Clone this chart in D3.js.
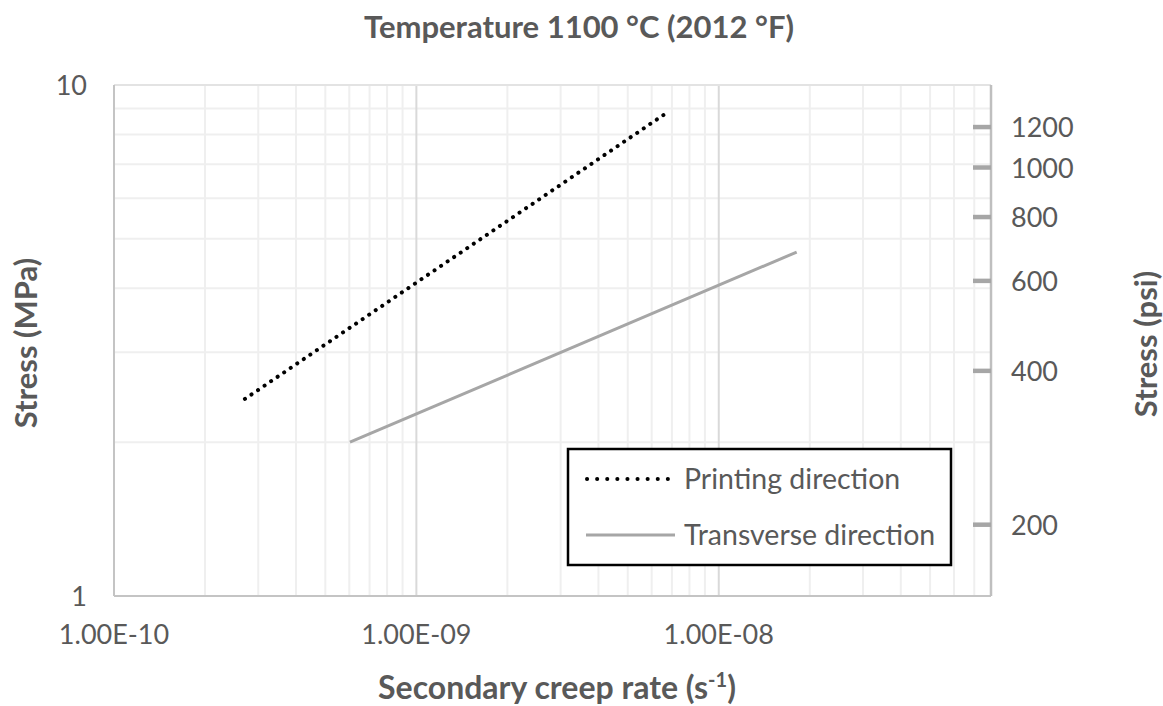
<!DOCTYPE html>
<html>
<head>
<meta charset="utf-8">
<script src="https://cdn.jsdelivr.net/npm/d3@7"></script>
<style>
  html, body { margin: 0; padding: 0; background: #fff; }
  svg { display: block; }
  text { font-family: Lato, "Open Sans", sans-serif; fill: #595959; }
</style>
</head>
<body>
<figure id="chart" style="margin:0"></figure>
<script>
// creep rate (1/s) vs stress (MPa)
const printingRate = [2.71e-10, 6.78e-9];
const printingStress = [2.43, 8.85];
const transverseRate = [6.03e-10, 1.81e-8];
const transverseStress = [2.0, 4.71];

const xTickValues = [1e-10, 1e-9, 1e-8];
const yTickValues = [1, 10];
const psiTickValues = [200, 400, 600, 800, 1000, 1200];
const seriesNames = ["Printing direction", "Transverse direction"];
const MPA_TO_PSI = 145.038;

const width = 1163;
const height = 706;
const margin = { top: 85, right: 172, bottom: 110, left: 114 };

const svg = d3.select("figure#chart")
  .append("svg")
  .attr("width", width)
  .attr("height", height);

const x = d3.scaleLog()
  .domain([1e-10, 7.95e-8])
  .range([margin.left, width - margin.right]);

const y = d3.scaleLog()
  .domain([1, 10])
  .range([height - margin.bottom, margin.top]);

// minor / major grid
const xMinor = [];
for (let e = -10; e <= -8; e++) {
  for (let k = 2; k <= 9; k++) {
    const v = k * Math.pow(10, e);
    if (v < x.domain()[1]) xMinor.push(v);
  }
}
const yMinor = d3.range(2, 10);

const grid = svg.append("g");
grid.selectAll(".xminor")
  .data(xMinor)
  .enter()
  .append("line")
  .attr("x1", d => x(d)).attr("x2", d => x(d))
  .attr("y1", y(1)).attr("y2", y(10))
  .attr("stroke", "#efefef")
  .attr("stroke-width", 2);

grid.selectAll(".yminor")
  .data(yMinor)
  .enter()
  .append("line")
  .attr("x1", x.range()[0]).attr("x2", x.range()[1])
  .attr("y1", d => y(d)).attr("y2", d => y(d))
  .attr("stroke", "#efefef")
  .attr("stroke-width", 2);

grid.selectAll(".xmajor")
  .data(xTickValues.slice(1))
  .enter()
  .append("line")
  .attr("x1", d => x(d)).attr("x2", d => x(d))
  .attr("y1", y(1)).attr("y2", y(10))
  .attr("stroke", "#d9d9d9")
  .attr("stroke-width", 2);

// top border
grid.append("line")
  .attr("x1", x.range()[0]).attr("x2", x.range()[1])
  .attr("y1", y(10)).attr("y2", y(10))
  .attr("stroke", "#e3e3e3")
  .attr("stroke-width", 2);

// axis lines
svg.append("line")
  .attr("x1", x.range()[0]).attr("x2", x.range()[0])
  .attr("y1", y(1)).attr("y2", y(10))
  .attr("stroke", "#c4c4c4").attr("stroke-width", 2);
svg.append("line")
  .attr("x1", x.range()[0]).attr("x2", x.range()[1])
  .attr("y1", y(1)).attr("y2", y(1))
  .attr("stroke", "#c4c4c4").attr("stroke-width", 2);
svg.append("line")
  .attr("x1", x.range()[1]).attr("x2", x.range()[1])
  .attr("y1", y(1)).attr("y2", y(10))
  .attr("stroke", "#bfbfbf").attr("stroke-width", 2.5);

// bottom tick labels
svg.selectAll(".xlab")
  .data(xTickValues)
  .enter()
  .append("text")
  .attr("x", d => x(d))
  .attr("y", 644)
  .attr("text-anchor", "middle")
  .style("font-size", "27px")
  .text(d => d.toExponential(2).toUpperCase().replace(/E-(\d)$/, "E-0$1"));

// left tick labels
svg.selectAll(".ylab")
  .data(yTickValues)
  .enter()
  .append("text")
  .attr("x", 87)
  .attr("y", d => y(d) + 10)
  .attr("text-anchor", "end")
  .style("font-size", "27px")
  .text(d => d);

// right psi axis
const psiG = svg.append("g");
psiG.selectAll(".ptick")
  .data(psiTickValues)
  .enter()
  .append("line")
  .attr("x1", x.range()[1] - 18).attr("x2", x.range()[1])
  .attr("y1", d => y(d / MPA_TO_PSI)).attr("y2", d => y(d / MPA_TO_PSI))
  .attr("stroke", "#a6a6a6").attr("stroke-width", 4.5);
psiG.selectAll(".plab")
  .data(psiTickValues)
  .enter()
  .append("text")
  .attr("x", 1011)
  .attr("y", d => y(d / MPA_TO_PSI) + 10)
  .style("font-size", "27px")
  .text(d => d);

// series
const line = d3.line().x(d => x(d[0])).y(d => y(d[1]));
const printing = printingRate.map((r, i) => [r, printingStress[i]]);
const transverse = transverseRate.map((r, i) => [r, transverseStress[i]]);

svg.append("path")
  .datum(transverse)
  .attr("d", line)
  .attr("fill", "none")
  .attr("stroke", "#a6a6a6")
  .attr("stroke-width", 3);

svg.append("path")
  .datum(printing)
  .attr("d", line)
  .attr("fill", "none")
  .attr("stroke", "#000")
  .attr("stroke-width", 4)
  .attr("stroke-linecap", "round")
  .attr("stroke-dasharray", "0.1,7.8");

// legend
const legend = svg.append("g");
legend.append("rect")
  .attr("x", 568).attr("y", 449)
  .attr("width", 383).attr("height", 116)
  .attr("fill", "#fff")
  .attr("stroke", "#000")
  .attr("stroke-width", 2.5);
legend.append("line")
  .attr("x1", 587).attr("x2", 668)
  .attr("y1", 479).attr("y2", 479)
  .attr("stroke", "#000").attr("stroke-width", 4)
  .attr("stroke-linecap", "round")
  .attr("stroke-dasharray", "0.1,10");
legend.append("line")
  .attr("x1", 586).attr("x2", 675)
  .attr("y1", 535).attr("y2", 535)
  .attr("stroke", "#a6a6a6").attr("stroke-width", 3);
legend.selectAll(".ltxt")
  .data(seriesNames)
  .enter()
  .append("text")
  .attr("x", 684)
  .attr("y", (d, i) => 489 + i * 56)
  .style("font-size", "28.5px")
  .text(d => d);

// titles
svg.append("text")
  .attr("x", 579).attr("y", 38)
  .attr("text-anchor", "middle")
  .style("font-size", "31px").style("font-weight", "bold")
  .text("Temperature 1100 °C (2012 °F)");

const xt = svg.append("text")
  .attr("x", 557).attr("y", 699)
  .attr("text-anchor", "middle")
  .style("font-size", "32px").style("font-weight", "bold");
xt.append("tspan").text("Secondary creep rate (s");
xt.append("tspan").attr("dy", -12).style("font-size", "20px").text("-1");
xt.append("tspan").attr("dy", 12).text(")");

svg.append("text")
  .attr("transform", "translate(37,343) rotate(-90)")
  .attr("text-anchor", "middle")
  .style("font-size", "31px").style("font-weight", "bold")
  .text("Stress (MPa)");

svg.append("text")
  .attr("transform", "translate(1157,344) rotate(-90)")
  .attr("text-anchor", "middle")
  .style("font-size", "31px").style("font-weight", "bold")
  .text("Stress (psi)");
</script>
</body>
</html>
